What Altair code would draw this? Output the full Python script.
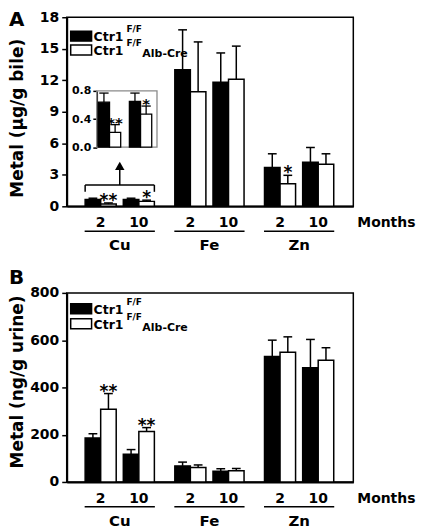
import altair as alt
import pandas as pd

# ---------------- data ----------------
metals = ["Cu", "Fe", "Zn"]
months = ["2", "10"]
genotypes = ["Ctr1F/F", "Ctr1F/F Alb-Cre"]

# Panel A: bile metal (ug/g bile); order Cu-2, Cu-10, Fe-2, Fe-10, Zn-2, Zn-10
bile_ff = [0.64, 0.65, 13.0, 11.8, 3.7, 4.2]
bile_ff_err = [0.13, 0.12, 3.8, 2.8, 1.3, 1.4]
bile_ko = [0.21, 0.47, 10.9, 12.1, 2.15, 4.0]
bile_ko_err = [0.11, 0.115, 4.75, 3.15, 0.8, 1.0]
bile_ko_sig = ["**", "*", "", "", "*", ""]

# Panel B: urine metal (ng/g urine)
urine_ff = [186, 117, 68, 45, 531, 483]
urine_ff_err = [18, 20, 16, 11, 69, 120]
urine_ko = [308, 214, 61, 47, 549, 515]
urine_ko_err = [66, 16, 11, 10, 65, 53]
urine_ko_sig = ["**", "**", "", "", "", ""]

y_ticks_bile = [0, 3, 6, 9, 12, 15, 18]
y_ticks_urine = [0, 200, 400, 600, 800]
inset_ticks = [0.0, 0.4, 0.8]

# ---------------- layout ----------------
W, H = 288, 190
STEP = 2.35          # distance between metal groups (in pair units)
BW = 0.407           # bar width
CAP = 0.115          # half cap width
XDOM = [-0.89, 6.62]
FONT = "DejaVu Sans"


def bar_table(ff, ff_err, ko, ko_err, sig, pair_pos, bw, cap, keep=None):
    rows = []
    k = 0
    for i, m in enumerate(metals):
        for j, mo in enumerate(months):
            if keep is None or m == keep:
                c = pair_pos(i, j)
                for g, (vals, errs) in enumerate([(ff, ff_err), (ko, ko_err)]):
                    x1 = c - bw + g * bw
                    bc = x1 + bw / 2
                    rows.append(dict(metal=m, month=mo, geno=genotypes[g],
                                     x1=x1, x2=x1 + bw, bc=bc,
                                     cx1=bc - cap, cx2=bc + cap,
                                     v=vals[k], top=vals[k] + errs[k], zero=0,
                                     sig=(sig[k] if g == 1 else "")))
            k += 1
    return pd.DataFrame(rows)


main_pos = lambda i, j: i * STEP + j
pairs = pd.DataFrame([dict(c=main_pos(i, j), month=mo)
                      for i, m in enumerate(metals) for j, mo in enumerate(months)])
mets = pd.DataFrame([dict(metal=m, mc=main_pos(i, 0) + 0.5,
                          u1=main_pos(i, 0) + 0.5 - 0.92, u2=main_pos(i, 0) + 0.5 + 0.92)
                     for i, m in enumerate(metals)])
one = pd.DataFrame({"t": ["Months"]})

fillscale = alt.Scale(domain=genotypes, range=["black", "white"])


def text_layer(txt, x, y, size, align="left", baseline="alphabetic"):
    return alt.Chart(pd.DataFrame({"t": [txt]})).mark_text(
        font=FONT, fontWeight="bold", fontSize=size, align=align, baseline=baseline, color="black"
    ).encode(x=alt.value(x), y=alt.value(y), text="t:N")


def legend_layers(r1, r2):
    layers = []
    for (sy, fill, extra) in [(r1, "black", False), (r2, "white", True)]:
        layers.append(alt.Chart(one).mark_rect(fill=fill, stroke="black", strokeWidth=1.5).encode(
            x=alt.value(4), x2=alt.value(25), y=alt.value(sy), y2=alt.value(sy + 10)))
        layers.append(text_layer("Ctr1", 27, sy + 10, 12.5))
        layers.append(text_layer("F/F", 60, sy + 1, 9))
        if extra:
            layers.append(text_layer("Alb-Cre", 76, sy + 12, 11))
    return layers


def panel(df, ydom, yticks, ytitle, letter, title_dy, leg_rows, extra=None, inset=None):
    xs = alt.Scale(domain=XDOM, nice=False, zero=False)
    ys = alt.Scale(domain=ydom, nice=False, zero=False)
    yaxis = alt.Axis(values=yticks, grid=False, title=ytitle, labelOverlap=False,
                     titleX=-49, titleY=H / 2 + title_dy,
                     titleAngle=270, titleBaseline="middle", titleAlign="center")
    xaxis = alt.Axis(labels=False, ticks=False, grid=False, domainWidth=2, title=None)
    base = alt.Chart(df)
    bars = base.mark_rect(stroke="black", strokeWidth=1.5).encode(
        x=alt.X("x1:Q", scale=xs, axis=xaxis),
        x2="x2:Q",
        y=alt.Y("v:Q", scale=ys, axis=yaxis),
        y2="zero:Q",
        fill=alt.Fill("geno:N", scale=fillscale, legend=None),
    )
    err = base.mark_rule(color="black", strokeWidth=1.5).encode(
        x=alt.X("bc:Q", scale=xs, axis=xaxis), y=alt.Y("v:Q", scale=ys, axis=yaxis), y2="top:Q")
    caps = base.mark_rule(color="black", strokeWidth=1.5).encode(
        x=alt.X("cx1:Q", scale=xs, axis=xaxis), x2="cx2:Q", y=alt.Y("top:Q", scale=ys, axis=yaxis))
    stars = base.transform_filter("datum.sig != ''").mark_text(
        font=FONT, fontWeight="bold", fontSize=17, baseline="alphabetic", dy=3, color="black"
    ).encode(x=alt.X("bc:Q", scale=xs, axis=xaxis), y=alt.Y("top:Q", scale=ys, axis=yaxis), text="sig:N")
    mlab = alt.Chart(pairs).mark_text(font=FONT, fontWeight="bold", fontSize=14,
                                      baseline="middle", color="black").encode(
        x=alt.X("c:Q", scale=xs, axis=xaxis), y=alt.value(H + 17), text="month:N")
    uline = alt.Chart(mets).mark_rule(color="black", strokeWidth=1.5).encode(
        x=alt.X("u1:Q", scale=xs, axis=xaxis), x2="u2:Q", y=alt.value(H + 25))
    metlab = alt.Chart(mets).mark_text(font=FONT, fontWeight="bold", fontSize=15,
                                       baseline="middle", color="black").encode(
        x=alt.X("mc:Q", scale=xs, axis=xaxis), y=alt.value(H + 39), text="metal:N")
    layers = [bars, err, caps, stars, mlab, uline, metlab,
              text_layer("Months", W + 4, H + 17, 14, baseline="middle"),
              text_layer(letter, -58, -7 if letter == "A" else -25, 20, baseline="top")]
    layers += legend_layers(*leg_rows)
    if extra is not None:
        layers += [e(xs, xaxis, ys, yaxis) for e in extra]
    main = alt.layer(*layers)
    if inset is None:
        return main.properties(width=W, height=H)
    return alt.layer(main, inset).resolve_scale(x="independent", y="independent").properties(width=W, height=H)


# ---------------- panel A ----------------
dfA = bar_table(bile_ff, bile_ff_err, bile_ko, bile_ko_err, bile_ko_sig, main_pos, BW, CAP)

# bracket + arrow pointing to inset (Cu group)
BR_Y, BR_END, ARROW_TOP, HEAD_Y = 2.03, 1.38, 3.45, 3.85
seg = pd.DataFrame([
    dict(x=-BW, x2=1 + BW, y=BR_Y, y2=BR_Y),
    dict(x=-BW, x2=-BW, y=BR_END, y2=BR_Y),
    dict(x=1 + BW, x2=1 + BW, y=BR_END, y2=BR_Y),
    dict(x=0.5, x2=0.5, y=BR_Y, y2=ARROW_TOP),
])


def bracket(xs, xaxis, ys, yaxis):
    return alt.Chart(seg).mark_rule(color="black", strokeWidth=1.5).encode(
        x=alt.X("x:Q", scale=xs, axis=xaxis), x2="x2:Q",
        y=alt.Y("y:Q", scale=ys, axis=yaxis), y2="y2:Q")


def head(xs, xaxis, ys, yaxis):
    return alt.Chart(pd.DataFrame({"x": [0.5], "y": [HEAD_Y]})).mark_point(
        shape="triangle-up", filled=True, color="black", size=90, opacity=1).encode(
        x=alt.X("x:Q", scale=xs, axis=xaxis), y=alt.Y("y:Q", scale=ys, axis=yaxis))


# inset
IBW, ICAP = 0.36, 0.15
IXDOM = [-0.41, 1.53]
dfI = bar_table(bile_ff, bile_ff_err, bile_ko, bile_ko_err, bile_ko_sig,
                lambda i, j: j, IBW, ICAP, keep="Cu")
xs_in = alt.Scale(domain=IXDOM, range=[0.105 * W, 0.315 * W], nice=False, zero=False)
ys_in = alt.Scale(domain=[0, 0.8], range=[0.687 * H, 0.39 * H], nice=False, zero=False)
frame = alt.Chart(pd.DataFrame(dict(x1=[IXDOM[0]], x2=[IXDOM[1]], y1=[0.0], y2=[0.8]))).mark_rect(
    fill="white", fillOpacity=0, stroke="#8a8a8a", strokeWidth=1.3).encode(
    x=alt.X("x1:Q", scale=xs_in, axis=None), x2="x2:Q",
    y=alt.Y("y1:Q", scale=ys_in, axis=alt.Axis(orient="left", offset=-0.105 * W, values=inset_ticks,
                                                format=".1f", labelFontSize=11, tickSize=4,
                                                domainWidth=1.5, grid=False, title=None, labelPadding=2)),
    y2="y2:Q")
ibase = alt.Chart(dfI)
ibars = ibase.mark_rect(stroke="black", strokeWidth=1.3).encode(
    x="x1:Q", x2="x2:Q", y="v:Q", y2="zero:Q",
    fill=alt.Fill("geno:N", scale=fillscale, legend=None))
ierr = ibase.mark_rule(color="black", strokeWidth=1.3).encode(x="bc:Q", y="v:Q", y2="top:Q")
icap = ibase.mark_rule(color="black", strokeWidth=1.3).encode(x="cx1:Q", x2="cx2:Q", y="top:Q")
istar = ibase.transform_filter("datum.sig != ''").mark_text(
    font=FONT, fontWeight="bold", fontSize=15, baseline="alphabetic", dy=3, color="black"
).encode(x="bc:Q", y="top:Q", text="sig:N")
inset = alt.layer(frame, ibars, ierr, icap, istar)

chartA = panel(dfA, [0, 18], y_ticks_bile, "Metal (µg/g bile)", "A", 6, (14, 28),
               extra=[bracket, head], inset=inset)

# ---------------- panel B ----------------
dfB = bar_table(urine_ff, urine_ff_err, urine_ko, urine_ko_err, urine_ko_sig, main_pos, BW, CAP)
chartB = panel(dfB, [0, 800], y_ticks_urine, "Metal (ng/g urine)", "B", -6, (11, 26))

chart = alt.vconcat(chartA, chartB, spacing=13).properties(padding=0).configure(
    font=FONT
).configure_view(stroke="black", strokeWidth=1.5).configure_axis(
    labelFont=FONT, labelFontWeight="bold", labelFontSize=14, labelColor="black",
    tickColor="black", tickWidth=1.5, tickSize=5, domainColor="black", domainWidth=2,
    titleFont=FONT, titleFontWeight="bold", titleFontSize=17, titleColor="black",
    grid=False, labelPadding=3)

chart.save("out.html", embed_options={"renderer": "svg", "actions": False})
